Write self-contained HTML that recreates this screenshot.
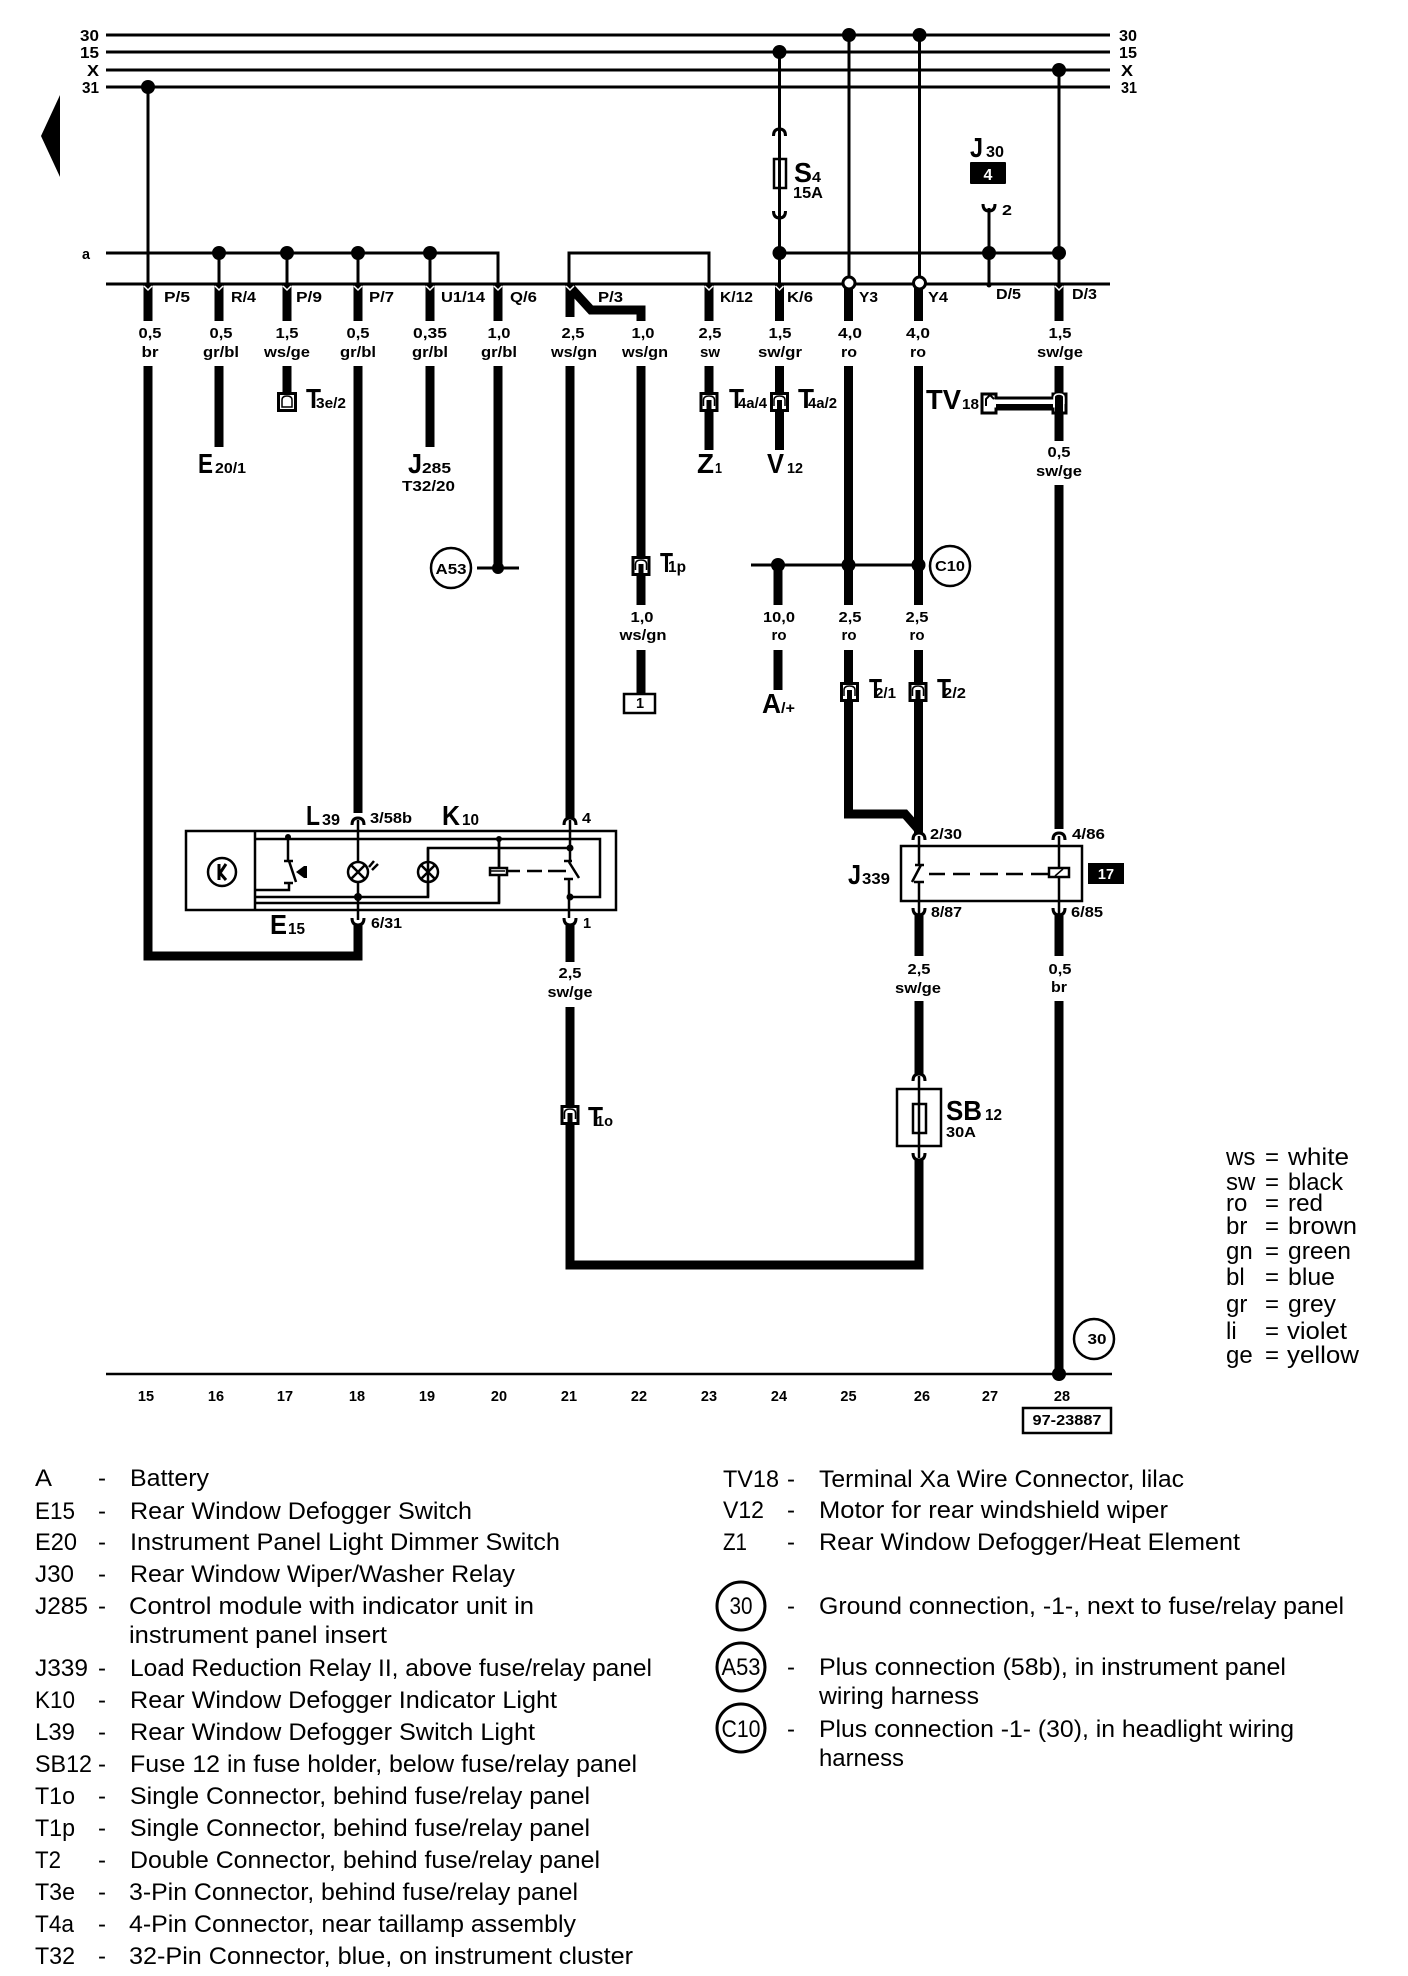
<!DOCTYPE html>
<html><head><meta charset="utf-8"><title>Wiring diagram</title>
<style>
html,body{margin:0;padding:0;background:#fff;width:1408px;height:1976px;overflow:hidden}
svg{display:block}
text{font-family:"Liberation Sans",sans-serif;fill:#000}
.b{font-weight:bold;font-size:14.5px}
.m{font-weight:bold;font-size:16px}
.h{font-weight:bold;font-size:28px}
.w{fill:#fff}
.l{font-size:24px}
</style></head><body>
<svg xmlns="http://www.w3.org/2000/svg" width="1408" height="1976" viewBox="0 0 1408 1976">
<defs>
<g id="c"><rect x="-8" y="1.5" width="16" height="17" fill="#fff" stroke="#000" stroke-width="3"/><path d="M-2.5 8H2.5V20H-2.5Z" fill="#000"/><path d="M-5.5 14V8Q-5.5 4 0 4Q5.5 4 5.5 8V14" fill="none" stroke="#000" stroke-width="1.5"/></g>
<path id="n" d="M-6 4Q-6 -3 0 -3Q6 -3 6 4" fill="none" stroke="#000" stroke-width="3"/>
<path id="u" d="M-6 -4Q-6 3 0 3Q6 3 6 -4" fill="none" stroke="#000" stroke-width="3"/>
<path id="v" d="M-4 286L0 290L4 286" fill="none" stroke="#fff" stroke-width="1.5"/>
</defs>
<rect width="1408" height="1976" fill="#fff"/>

<!-- buses -->
<g stroke="#000" stroke-width="3" fill="none">
<path d="M106 35H1110M106 52H1110M106 70H1110M106 87H1110M106 284H1110"/>
<path d="M106 253H498V284M569 284V253H709V284M779.5 253H1059"/>
<path d="M148 87V284M219 253V284M287 253V284M358 253V284M430 253V284"/>
<path d="M779.5 52V284M849 35V278M919.5 35V278M1059 70V284M989 208V287"/>
<path d="M106 1374H1112" stroke-width="2.5"/>
</g>
<path d="M60 95L41 136L60 177Z" fill="#000"/>

<!-- thick wires -->
<g stroke="#000" stroke-width="9" fill="none">
<path d="M148 284V321M148 366V956H358V925M358 284V321M358 366V813"/>
<path d="M219 284V321M219 366V447M287 284V321M287 366V393M430 284V321M430 366V447M498 284V321M498 366V572"/>
<path d="M570 284V317M570 287L591 310H641V321M570 366V818M570 925V962M570 1007V1265H919V1160"/>
<path d="M641 366V605M641 650V693M709 284V321M709 366V450M779.5 284V321M779.5 366V450"/>
<path d="M848.5 284V321M848.5 366V605M848.5 650V814H905L919 830M918.5 284V321M918.5 366V605M918.5 650V833"/>
<path d="M1059 284V321M1059 366V441M1059 485V829M1059 915V956M1059 1001V1374"/>
<path d="M919 915V956M919 1001V1075"/>
<path d="M778 565V605M778 650V690"/>
</g>
<g><use href="#v" x="148"/><use href="#v" x="219"/><use href="#v" x="287"/><use href="#v" x="358"/><use href="#v" x="430"/><use href="#v" x="498"/><use href="#v" x="570"/><use href="#v" x="709"/><use href="#v" x="779.5"/><use href="#v" x="1059"/></g>

<!-- nodes -->
<g fill="#000">
<circle cx="148" cy="87" r="7"/><circle cx="849" cy="35" r="7"/><circle cx="919.5" cy="35" r="7"/><circle cx="779.5" cy="52" r="7"/><circle cx="1059" cy="70" r="7"/>
<circle cx="219" cy="253" r="7"/><circle cx="287" cy="253" r="7"/><circle cx="358" cy="253" r="7"/><circle cx="430" cy="253" r="7"/>
<circle cx="779.5" cy="253" r="7"/><circle cx="989" cy="253" r="7"/><circle cx="1059" cy="253" r="7"/>
<circle cx="498" cy="568" r="6"/><circle cx="778" cy="565" r="7"/><circle cx="848.5" cy="565" r="7"/><circle cx="918.5" cy="565" r="7"/>
<circle cx="1059" cy="1374" r="7"/><circle cx="989" cy="285" r="2.5"/>
</g>
<g fill="#fff" stroke="#000" stroke-width="3"><circle cx="849" cy="283" r="6"/><circle cx="919.5" cy="283" r="6"/></g>

<!-- horizontals at splice -->
<path d="M477 568H519M751 565H919" stroke="#000" stroke-width="3" fill="none"/>

<!-- fuse S4 -->
<use href="#n" x="779.5" y="132"/><use href="#u" x="779.5" y="215"/>
<rect x="774" y="159" width="12" height="29" fill="none" stroke="#000" stroke-width="2.5"/>
<use href="#u" x="989" y="208"/>
<rect x="970" y="162" width="36" height="22" rx="1" fill="#000"/>
<text class="m w" x="988" y="180" text-anchor="middle">4</text>

<!-- connectors -->
<rect x="278.5" y="393.5" width="17" height="17" fill="#fff" stroke="#000" stroke-width="3"/>
<path d="M282 407V400Q282 396 287 396Q292 396 292 400V407Z" fill="#fff" stroke="#000" stroke-width="1.5"/>
<use href="#c" x="709" y="392"/><use href="#c" x="779.5" y="392"/>
<use href="#c" x="641" y="556"/><use href="#c" x="849.5" y="682"/><use href="#c" x="918" y="682"/>
<use href="#c" x="570" y="1105"/>

<!-- TV18 -->
<path d="M982 394H996V398H1053V394H1066V413H1053V409H996V413H982Z" fill="#fff" stroke="#000" stroke-width="3"/>
<path d="M996 404H1053V409H996Z" fill="#000"/>
<path d="M1055 393H1063V414H1055Z" fill="#000"/>
<path d="M1054 404V398Q1054 394 1059 394Q1064 394 1064 398V404" fill="none" stroke="#fff" stroke-width="1.5"/>
<path d="M986 406V399L990 395L994 399" fill="none" stroke="#000" stroke-width="2"/>

<!-- E15 box -->
<g fill="none" stroke="#000" stroke-width="2.5">
<rect x="186" y="831" width="430" height="79"/>
<path d="M255 831V910"/>
<path d="M255 839H600V897H570M255 897H428V848H570M255 903H499V839"/>
<path d="M288 837V860M289 861L296 882M284 861H293M284 883H293M289 883V890H255"/>
<path d="M358 820V862M358 882V920M428 848V862M428 882V897M570 820V862M569 878V918"/>
<path d="M499 839V868M499 875V903"/>
<path d="M569 862L579 878M564 861H572M564 879H573"/>
<path d="M507 871H520M527 871H542M548 871H566" stroke-width="2.5"/>
<circle cx="222" cy="872" r="14"/>
<circle cx="358" cy="872" r="10"/><path d="M351 865L365 879M351 879L365 865"/>
<circle cx="428" cy="872" r="10"/><path d="M421 865L435 879M421 879L435 865"/>
<path d="M219 864V880M226 864L220 873L226 880" stroke-width="3"/>
<rect x="490" y="868" width="17" height="7" fill="#fff"/>
<path d="M490 871H505" stroke-width="1.5"/>
<path d="M369 867L374 861M372 870L378 864" stroke-width="2.5"/>
</g>
<path d="M296 872L304 866V878Z" fill="#000"/><rect x="304" y="866" width="3" height="12" fill="#000"/>
<g fill="#000"><circle cx="288" cy="837" r="3"/><circle cx="499" cy="839" r="3"/><circle cx="570" cy="848" r="3.5"/><circle cx="570" cy="897" r="3.5"/><circle cx="358" cy="897" r="4"/></g>
<use href="#n" x="358" y="821"/><use href="#u" x="358" y="922"/><use href="#n" x="570" y="821"/><use href="#u" x="570" y="922"/>

<!-- J339 -->
<g fill="none" stroke="#000" stroke-width="2.5">
<rect x="901" y="846" width="181" height="55"/>
<path d="M919 836V865M921 865L912 882M915 865H924M919 882V914M914 882H924"/>
<path d="M929 874H945M953 874H970M980 874H998M1006 874H1023M1031 874H1049"/>
<path d="M1059 836V868M1059 877V914"/>
<rect x="1049" y="868" width="20" height="9" fill="#fff"/>
<path d="M1055 876L1063 869" stroke-width="1.5"/>
</g>
<use href="#n" x="919" y="836"/><use href="#n" x="1059" y="836"/><use href="#u" x="919" y="912"/><use href="#u" x="1059" y="912"/>
<rect x="1088" y="863" width="36" height="21" fill="#000"/>
<text class="b w" x="1106" y="879" text-anchor="middle">17</text>

<!-- SB12 -->
<rect x="897" y="1089" width="44" height="57" fill="#fff" stroke="#000" stroke-width="2.5"/>
<rect x="913" y="1104" width="13" height="29" fill="#fff" stroke="#000" stroke-width="2.5"/>
<path d="M919 1076V1158" stroke="#000" stroke-width="2.5"/>
<use href="#n" x="919" y="1077"/><use href="#u" x="919" y="1157"/>

<!-- boxes & circles -->
<rect x="624" y="694" width="31" height="19" fill="#fff" stroke="#000" stroke-width="2.5"/>
<text class="b" x="640" y="708" text-anchor="middle">1</text>
<rect x="1023" y="1408" width="88" height="25" fill="none" stroke="#000" stroke-width="2.5"/>
<text class="b" x="1067" y="1425" text-anchor="middle" textLength="69" lengthAdjust="spacingAndGlyphs">97-23887</text>
<g fill="none" stroke="#000" stroke-width="2.5">
<circle cx="451" cy="568" r="20"/><circle cx="950" cy="566" r="20"/><circle cx="1094" cy="1339" r="20"/>
</g>
<text class="b" x="451" y="574" text-anchor="middle" textLength="31" lengthAdjust="spacingAndGlyphs">A53</text>
<text class="b" x="950" y="571" text-anchor="middle" textLength="30" lengthAdjust="spacingAndGlyphs">C10</text>
<text class="b" x="1097" y="1344" text-anchor="middle" textLength="19" lengthAdjust="spacingAndGlyphs">30</text>
<g fill="none" stroke="#000" stroke-width="3">
<ellipse cx="741" cy="1606" rx="24" ry="24"/><ellipse cx="741" cy="1667" rx="24" ry="24"/><ellipse cx="741" cy="1728" rx="24" ry="24"/>
</g>

<!-- bus labels -->
<g class="m">
<text class="m" x="80" y="41" textLength="19" lengthAdjust="spacingAndGlyphs">30</text>
<text class="m" x="80" y="58" textLength="19" lengthAdjust="spacingAndGlyphs">15</text>
<text class="m" x="87" y="76" textLength="12" lengthAdjust="spacingAndGlyphs">X</text>
<text class="m" x="82" y="93" textLength="17" lengthAdjust="spacingAndGlyphs">31</text>
<text class="m" x="1119" y="41" textLength="18" lengthAdjust="spacingAndGlyphs">30</text>
<text class="m" x="1119" y="58" textLength="18" lengthAdjust="spacingAndGlyphs">15</text>
<text class="m" x="1121" y="76" textLength="12" lengthAdjust="spacingAndGlyphs">X</text>
<text class="m" x="1121" y="93" textLength="16" lengthAdjust="spacingAndGlyphs">31</text>
<text class="b" x="82" y="259" textLength="8" lengthAdjust="spacingAndGlyphs">a</text>
</g>

<!-- terminal labels -->
<text class="b" x="164" y="302" textLength="26" lengthAdjust="spacingAndGlyphs">P/5</text>
<text class="b" x="231" y="302" textLength="25" lengthAdjust="spacingAndGlyphs">R/4</text>
<text class="b" x="296" y="302" textLength="26" lengthAdjust="spacingAndGlyphs">P/9</text>
<text class="b" x="369" y="302" textLength="25" lengthAdjust="spacingAndGlyphs">P/7</text>
<text class="b" x="441" y="302" textLength="44" lengthAdjust="spacingAndGlyphs">U1/14</text>
<text class="b" x="510" y="302" textLength="27" lengthAdjust="spacingAndGlyphs">Q/6</text>
<text class="b" x="598" y="302" textLength="25" lengthAdjust="spacingAndGlyphs">P/3</text>
<text class="b" x="720" y="302" textLength="33" lengthAdjust="spacingAndGlyphs">K/12</text>
<text class="b" x="787" y="302" textLength="26" lengthAdjust="spacingAndGlyphs">K/6</text>
<text class="b" x="859" y="302" textLength="19" lengthAdjust="spacingAndGlyphs">Y3</text>
<text class="b" x="928" y="302" textLength="20" lengthAdjust="spacingAndGlyphs">Y4</text>
<text class="b" x="996" y="299" textLength="25" lengthAdjust="spacingAndGlyphs">D/5</text>
<text class="b" x="1072" y="299" textLength="25" lengthAdjust="spacingAndGlyphs">D/3</text>

<!-- wire values -->
<g text-anchor="middle">
<text class="b" x="150" y="338" textLength="23" lengthAdjust="spacingAndGlyphs">0,5</text><text class="b" x="150" y="357" textLength="17" lengthAdjust="spacingAndGlyphs">br</text>
<text class="b" x="221" y="338" textLength="23" lengthAdjust="spacingAndGlyphs">0,5</text><text class="b" x="221" y="357" textLength="36" lengthAdjust="spacingAndGlyphs">gr/bl</text>
<text class="b" x="287" y="338" textLength="23" lengthAdjust="spacingAndGlyphs">1,5</text><text class="b" x="287" y="357" textLength="46" lengthAdjust="spacingAndGlyphs">ws/ge</text>
<text class="b" x="358" y="338" textLength="23" lengthAdjust="spacingAndGlyphs">0,5</text><text class="b" x="358" y="357" textLength="36" lengthAdjust="spacingAndGlyphs">gr/bl</text>
<text class="b" x="430" y="338" textLength="34" lengthAdjust="spacingAndGlyphs">0,35</text><text class="b" x="430" y="357" textLength="36" lengthAdjust="spacingAndGlyphs">gr/bl</text>
<text class="b" x="499" y="338" textLength="23" lengthAdjust="spacingAndGlyphs">1,0</text><text class="b" x="499" y="357" textLength="36" lengthAdjust="spacingAndGlyphs">gr/bl</text>
<text class="b" x="573" y="338" textLength="23" lengthAdjust="spacingAndGlyphs">2,5</text><text class="b" x="574" y="357" textLength="46" lengthAdjust="spacingAndGlyphs">ws/gn</text>
<text class="b" x="643" y="338" textLength="23" lengthAdjust="spacingAndGlyphs">1,0</text><text class="b" x="645" y="357" textLength="46" lengthAdjust="spacingAndGlyphs">ws/gn</text>
<text class="b" x="710" y="338" textLength="23" lengthAdjust="spacingAndGlyphs">2,5</text><text class="b" x="710" y="357" textLength="20" lengthAdjust="spacingAndGlyphs">sw</text>
<text class="b" x="780" y="338" textLength="23" lengthAdjust="spacingAndGlyphs">1,5</text><text class="b" x="780" y="357" textLength="44" lengthAdjust="spacingAndGlyphs">sw/gr</text>
<text class="b" x="850" y="338" textLength="24" lengthAdjust="spacingAndGlyphs">4,0</text><text class="b" x="849" y="357" textLength="16" lengthAdjust="spacingAndGlyphs">ro</text>
<text class="b" x="918" y="338" textLength="24" lengthAdjust="spacingAndGlyphs">4,0</text><text class="b" x="918" y="357" textLength="16" lengthAdjust="spacingAndGlyphs">ro</text>
<text class="b" x="1060" y="338" textLength="23" lengthAdjust="spacingAndGlyphs">1,5</text><text class="b" x="1060" y="357" textLength="46" lengthAdjust="spacingAndGlyphs">sw/ge</text>
<text class="b" x="1059" y="457" textLength="23" lengthAdjust="spacingAndGlyphs">0,5</text><text class="b" x="1059" y="476" textLength="46" lengthAdjust="spacingAndGlyphs">sw/ge</text>
<text class="b" x="642" y="622" textLength="23" lengthAdjust="spacingAndGlyphs">1,0</text><text class="b" x="643" y="640" textLength="47" lengthAdjust="spacingAndGlyphs">ws/gn</text>
<text class="b" x="779" y="622" textLength="32" lengthAdjust="spacingAndGlyphs">10,0</text><text class="b" x="779" y="640" textLength="15" lengthAdjust="spacingAndGlyphs">ro</text>
<text class="b" x="850" y="622" textLength="23" lengthAdjust="spacingAndGlyphs">2,5</text><text class="b" x="849" y="640" textLength="15" lengthAdjust="spacingAndGlyphs">ro</text>
<text class="b" x="917" y="622" textLength="23" lengthAdjust="spacingAndGlyphs">2,5</text><text class="b" x="917" y="640" textLength="15" lengthAdjust="spacingAndGlyphs">ro</text>
<text class="b" x="570" y="978" textLength="23" lengthAdjust="spacingAndGlyphs">2,5</text><text class="b" x="570" y="997" textLength="45" lengthAdjust="spacingAndGlyphs">sw/ge</text>
<text class="b" x="919" y="974" textLength="23" lengthAdjust="spacingAndGlyphs">2,5</text><text class="b" x="918" y="993" textLength="46" lengthAdjust="spacingAndGlyphs">sw/ge</text>
<text class="b" x="1060" y="974" textLength="23" lengthAdjust="spacingAndGlyphs">0,5</text><text class="b" x="1059" y="992" textLength="16" lengthAdjust="spacingAndGlyphs">br</text>
</g>

<!-- component labels -->
<text class="h" x="198" y="473" textLength="15" lengthAdjust="spacingAndGlyphs">E</text><text class="b" x="215" y="473" textLength="31" lengthAdjust="spacingAndGlyphs">20/1</text>
<text class="h" x="408" y="473" textLength="14" lengthAdjust="spacingAndGlyphs">J</text><text class="b" x="422" y="473" textLength="29" lengthAdjust="spacingAndGlyphs">285</text>
<text class="b" x="402" y="491" textLength="53" lengthAdjust="spacingAndGlyphs">T32/20</text>
<text class="h" x="306" y="408" textLength="15" lengthAdjust="spacingAndGlyphs">T</text><text class="b" x="316" y="408" textLength="30" lengthAdjust="spacingAndGlyphs">3e/2</text>
<text class="h" x="697" y="473" textLength="17" lengthAdjust="spacingAndGlyphs">Z</text><text class="b" x="715" y="473" textLength="7" lengthAdjust="spacingAndGlyphs">1</text>
<text class="h" x="767" y="473" textLength="17" lengthAdjust="spacingAndGlyphs">V</text><text class="b" x="787" y="473" textLength="16" lengthAdjust="spacingAndGlyphs">12</text>
<text class="h" x="729" y="408" textLength="15" lengthAdjust="spacingAndGlyphs">T</text><text class="b" x="738" y="408" textLength="29" lengthAdjust="spacingAndGlyphs">4a/4</text>
<text class="h" x="798" y="408" textLength="16" lengthAdjust="spacingAndGlyphs">T</text><text class="b" x="808" y="408" textLength="29" lengthAdjust="spacingAndGlyphs">4a/2</text>
<text class="h" x="926" y="409" textLength="35" lengthAdjust="spacingAndGlyphs">TV</text><text class="b" x="962" y="409" textLength="17" lengthAdjust="spacingAndGlyphs">18</text>
<text class="h" x="794" y="182" textLength="18" lengthAdjust="spacingAndGlyphs">S</text><text class="b" x="812" y="182" textLength="9" lengthAdjust="spacingAndGlyphs">4</text>
<text class="m" x="793" y="198" textLength="30" lengthAdjust="spacingAndGlyphs">15A</text>
<text class="h" x="970" y="157" textLength="13" lengthAdjust="spacingAndGlyphs">J</text><text class="m" x="986" y="157" textLength="18" lengthAdjust="spacingAndGlyphs">30</text>
<text class="b" x="1002" y="215" textLength="10" lengthAdjust="spacingAndGlyphs">2</text>
<text class="h" x="660" y="572" textLength="13" lengthAdjust="spacingAndGlyphs">T</text><text class="m" x="668" y="572" textLength="18" lengthAdjust="spacingAndGlyphs">1p</text>
<text class="h" x="762" y="713" textLength="19" lengthAdjust="spacingAndGlyphs">A</text><text class="b" x="781" y="713" textLength="14" lengthAdjust="spacingAndGlyphs">/+</text>
<text class="h" x="869" y="698" textLength="13" lengthAdjust="spacingAndGlyphs">T</text><text class="b" x="875" y="698" textLength="21" lengthAdjust="spacingAndGlyphs">2/1</text>
<text class="h" x="937" y="698" textLength="14" lengthAdjust="spacingAndGlyphs">T</text><text class="b" x="943" y="698" textLength="23" lengthAdjust="spacingAndGlyphs">2/2</text>
<text class="h" x="588" y="1126" textLength="15" lengthAdjust="spacingAndGlyphs">T</text><text class="b" x="596" y="1126" textLength="17" lengthAdjust="spacingAndGlyphs">1o</text>
<text class="h" x="306" y="825" textLength="14" lengthAdjust="spacingAndGlyphs">L</text><text class="m" x="322" y="825" textLength="18" lengthAdjust="spacingAndGlyphs">39</text>
<text class="h" x="442" y="825" textLength="18" lengthAdjust="spacingAndGlyphs">K</text><text class="m" x="462" y="825" textLength="17" lengthAdjust="spacingAndGlyphs">10</text>
<text class="h" x="270" y="934" textLength="17" lengthAdjust="spacingAndGlyphs">E</text><text class="m" x="288" y="934" textLength="17" lengthAdjust="spacingAndGlyphs">15</text>
<text class="b" x="370" y="823" textLength="42" lengthAdjust="spacingAndGlyphs">3/58b</text>
<text class="b" x="582" y="823" textLength="9" lengthAdjust="spacingAndGlyphs">4</text>
<text class="b" x="371" y="928" textLength="31" lengthAdjust="spacingAndGlyphs">6/31</text>
<text class="b" x="583" y="928">1</text>
<text class="h" x="848" y="884" textLength="13" lengthAdjust="spacingAndGlyphs">J</text><text class="m" x="862" y="884" textLength="28" lengthAdjust="spacingAndGlyphs">339</text>
<text class="b" x="930" y="839" textLength="32" lengthAdjust="spacingAndGlyphs">2/30</text>
<text class="b" x="1072" y="839" textLength="33" lengthAdjust="spacingAndGlyphs">4/86</text>
<text class="b" x="931" y="917" textLength="31" lengthAdjust="spacingAndGlyphs">8/87</text>
<text class="b" x="1071" y="917" textLength="32" lengthAdjust="spacingAndGlyphs">6/85</text>
<text class="h" x="946" y="1120" textLength="36" lengthAdjust="spacingAndGlyphs">SB</text><text class="m" x="985" y="1120" textLength="17" lengthAdjust="spacingAndGlyphs">12</text>
<text class="b" x="946" y="1137" textLength="30" lengthAdjust="spacingAndGlyphs">30A</text>

<!-- bottom numbers -->
<g text-anchor="middle">
<text class="b" x="146" y="1401">15</text><text class="b" x="216" y="1401">16</text><text class="b" x="285" y="1401">17</text><text class="b" x="357" y="1401">18</text><text class="b" x="427" y="1401">19</text><text class="b" x="499" y="1401">20</text><text class="b" x="569" y="1401">21</text><text class="b" x="639" y="1401">22</text><text class="b" x="709" y="1401">23</text><text class="b" x="779" y="1401">24</text><text class="b" x="848.5" y="1401">25</text><text class="b" x="922" y="1401">26</text><text class="b" x="990" y="1401">27</text><text class="b" x="1062" y="1401">28</text>
</g>

<!-- colour legend -->
<g class="l">
<text class="l" x="1226" y="1165">ws</text><text class="l" x="1265" y="1165">=</text><text class="l" x="1288" y="1165" textLength="61" lengthAdjust="spacingAndGlyphs">white</text>
<text class="l" x="1226" y="1190">sw</text><text class="l" x="1265" y="1190">=</text><text class="l" x="1288" y="1190" textLength="55" lengthAdjust="spacingAndGlyphs">black</text>
<text class="l" x="1226" y="1211">ro</text><text class="l" x="1265" y="1211">=</text><text class="l" x="1288" y="1211" textLength="35" lengthAdjust="spacingAndGlyphs">red</text>
<text class="l" x="1226" y="1234">br</text><text class="l" x="1265" y="1234">=</text><text class="l" x="1288" y="1234" textLength="69" lengthAdjust="spacingAndGlyphs">brown</text>
<text class="l" x="1226" y="1259">gn</text><text class="l" x="1265" y="1259">=</text><text class="l" x="1288" y="1259" textLength="63" lengthAdjust="spacingAndGlyphs">green</text>
<text class="l" x="1226" y="1285">bl</text><text class="l" x="1265" y="1285">=</text><text class="l" x="1288" y="1285" textLength="47" lengthAdjust="spacingAndGlyphs">blue</text>
<text class="l" x="1226" y="1312">gr</text><text class="l" x="1265" y="1312">=</text><text class="l" x="1288" y="1312" textLength="48" lengthAdjust="spacingAndGlyphs">grey</text>
<text class="l" x="1226" y="1339">li</text><text class="l" x="1265" y="1339">=</text><text class="l" x="1287" y="1339" textLength="60" lengthAdjust="spacingAndGlyphs">violet</text>
<text class="l" x="1226" y="1363">ge</text><text class="l" x="1265" y="1363">=</text><text class="l" x="1287" y="1363" textLength="72" lengthAdjust="spacingAndGlyphs">yellow</text>
</g>

<!-- key left -->
<text class="l" x="35" y="1486" textLength="17" lengthAdjust="spacingAndGlyphs">A</text><text class="l" x="98" y="1486">-</text><text class="l" x="130" y="1486" textLength="79" lengthAdjust="spacingAndGlyphs">Battery</text>
<text class="l" x="35" y="1519" textLength="40" lengthAdjust="spacingAndGlyphs">E15</text><text class="l" x="98" y="1519">-</text><text class="l" x="130" y="1519" textLength="342" lengthAdjust="spacingAndGlyphs">Rear Window Defogger Switch</text>
<text class="l" x="35" y="1550" textLength="42" lengthAdjust="spacingAndGlyphs">E20</text><text class="l" x="98" y="1550">-</text><text class="l" x="130" y="1550" textLength="430" lengthAdjust="spacingAndGlyphs">Instrument Panel Light Dimmer Switch</text>
<text class="l" x="35" y="1582" textLength="39" lengthAdjust="spacingAndGlyphs">J30</text><text class="l" x="98" y="1582">-</text><text class="l" x="130" y="1582" textLength="385" lengthAdjust="spacingAndGlyphs">Rear Window Wiper/Washer Relay</text>
<text class="l" x="35" y="1614" textLength="53" lengthAdjust="spacingAndGlyphs">J285</text><text class="l" x="98" y="1614">-</text><text class="l" x="129" y="1614" textLength="405" lengthAdjust="spacingAndGlyphs">Control module with indicator unit in</text>
<text class="l" x="129" y="1643" textLength="258" lengthAdjust="spacingAndGlyphs">instrument panel insert</text>
<text class="l" x="35" y="1676" textLength="53" lengthAdjust="spacingAndGlyphs">J339</text><text class="l" x="98" y="1676">-</text><text class="l" x="130" y="1676" textLength="522" lengthAdjust="spacingAndGlyphs">Load Reduction Relay II, above fuse/relay panel</text>
<text class="l" x="35" y="1708" textLength="40" lengthAdjust="spacingAndGlyphs">K10</text><text class="l" x="98" y="1708">-</text><text class="l" x="130" y="1708" textLength="427" lengthAdjust="spacingAndGlyphs">Rear Window Defogger Indicator Light</text>
<text class="l" x="35" y="1740" textLength="40" lengthAdjust="spacingAndGlyphs">L39</text><text class="l" x="98" y="1740">-</text><text class="l" x="130" y="1740" textLength="405" lengthAdjust="spacingAndGlyphs">Rear Window Defogger Switch Light</text>
<text class="l" x="35" y="1772" textLength="57" lengthAdjust="spacingAndGlyphs">SB12</text><text class="l" x="98" y="1772">-</text><text class="l" x="130" y="1772" textLength="507" lengthAdjust="spacingAndGlyphs">Fuse 12 in fuse holder, below fuse/relay panel</text>
<text class="l" x="35" y="1804" textLength="40" lengthAdjust="spacingAndGlyphs">T1o</text><text class="l" x="98" y="1804">-</text><text class="l" x="130" y="1804" textLength="460" lengthAdjust="spacingAndGlyphs">Single Connector, behind fuse/relay panel</text>
<text class="l" x="35" y="1836" textLength="40" lengthAdjust="spacingAndGlyphs">T1p</text><text class="l" x="98" y="1836">-</text><text class="l" x="130" y="1836" textLength="460" lengthAdjust="spacingAndGlyphs">Single Connector, behind fuse/relay panel</text>
<text class="l" x="35" y="1868" textLength="26" lengthAdjust="spacingAndGlyphs">T2</text><text class="l" x="98" y="1868">-</text><text class="l" x="130" y="1868" textLength="470" lengthAdjust="spacingAndGlyphs">Double Connector, behind fuse/relay panel</text>
<text class="l" x="35" y="1900" textLength="40" lengthAdjust="spacingAndGlyphs">T3e</text><text class="l" x="98" y="1900">-</text><text class="l" x="129" y="1900" textLength="449" lengthAdjust="spacingAndGlyphs">3-Pin Connector, behind fuse/relay panel</text>
<text class="l" x="35" y="1932" textLength="39" lengthAdjust="spacingAndGlyphs">T4a</text><text class="l" x="98" y="1932">-</text><text class="l" x="129" y="1932" textLength="447" lengthAdjust="spacingAndGlyphs">4-Pin Connector, near taillamp assembly</text>
<text class="l" x="35" y="1964" textLength="40" lengthAdjust="spacingAndGlyphs">T32</text><text class="l" x="98" y="1964">-</text><text class="l" x="129" y="1964" textLength="504" lengthAdjust="spacingAndGlyphs">32-Pin Connector, blue, on instrument cluster</text>

<!-- key right -->
<text class="l" x="723" y="1487" textLength="56" lengthAdjust="spacingAndGlyphs">TV18</text><text class="l" x="787" y="1487">-</text><text class="l" x="819" y="1487" textLength="365" lengthAdjust="spacingAndGlyphs">Terminal Xa Wire Connector, lilac</text>
<text class="l" x="723" y="1518" textLength="41" lengthAdjust="spacingAndGlyphs">V12</text><text class="l" x="787" y="1518">-</text><text class="l" x="819" y="1518" textLength="349" lengthAdjust="spacingAndGlyphs">Motor for rear windshield wiper</text>
<text class="l" x="723" y="1550" textLength="24" lengthAdjust="spacingAndGlyphs">Z1</text><text class="l" x="787" y="1550">-</text><text class="l" x="819" y="1550" textLength="421" lengthAdjust="spacingAndGlyphs">Rear Window Defogger/Heat Element</text>
<text class="l" x="741" y="1614" text-anchor="middle" textLength="23" lengthAdjust="spacingAndGlyphs">30</text><text class="l" x="787" y="1614">-</text><text class="l" x="819" y="1614" textLength="525" lengthAdjust="spacingAndGlyphs">Ground connection, -1-, next to fuse/relay panel</text>
<text class="l" x="741" y="1675" text-anchor="middle" textLength="39" lengthAdjust="spacingAndGlyphs">A53</text><text class="l" x="787" y="1675">-</text><text class="l" x="819" y="1675" textLength="467" lengthAdjust="spacingAndGlyphs">Plus connection (58b), in instrument panel</text>
<text class="l" x="819" y="1704" textLength="160" lengthAdjust="spacingAndGlyphs">wiring harness</text>
<text class="l" x="741" y="1737" text-anchor="middle" textLength="39" lengthAdjust="spacingAndGlyphs">C10</text><text class="l" x="787" y="1737">-</text><text class="l" x="819" y="1737" textLength="475" lengthAdjust="spacingAndGlyphs">Plus connection -1- (30), in headlight wiring</text>
<text class="l" x="819" y="1766" textLength="85" lengthAdjust="spacingAndGlyphs">harness</text>
</svg>
</body></html>
